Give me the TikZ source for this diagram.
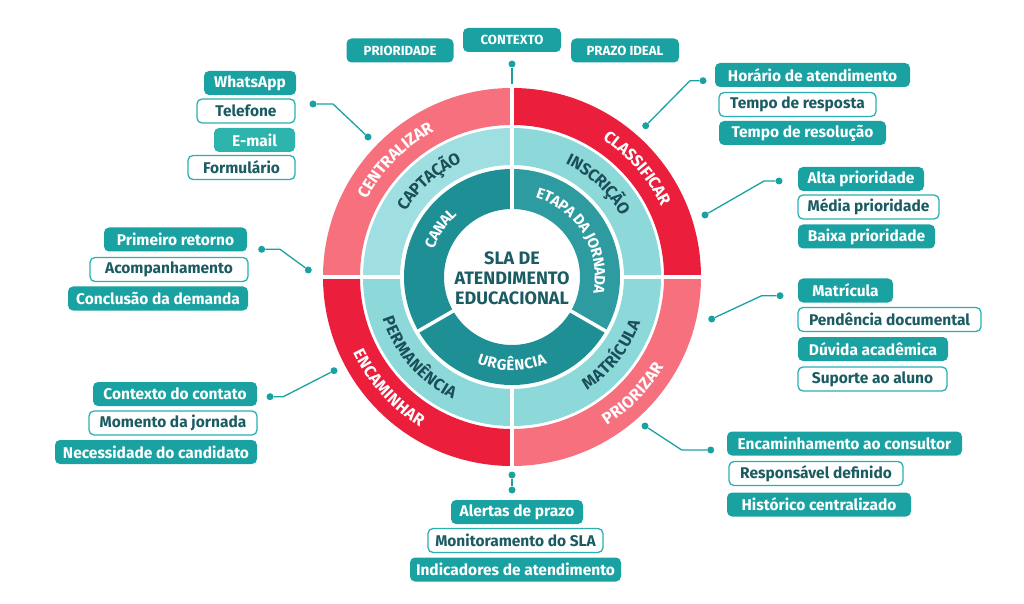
\documentclass[tikz,border=0pt]{standalone}
\usepackage{fontspec}
\setmainfont{Fira Sans}
\usetikzlibrary{decorations.text}
\definecolor{tealA}{HTML}{1AA2A3}
\definecolor{tealE}{HTML}{2DB4AC}
\definecolor{tealB}{HTML}{2BB0B2}
\definecolor{darktxt}{HTML}{1B5B62}
\definecolor{redL}{HTML}{F7707D}
\definecolor{redD}{HTML}{EB1E3C}
\definecolor{midL}{HTML}{A0DFE1}
\definecolor{midT}{HTML}{8DD9DA}
\definecolor{innA}{HTML}{1F8F96}
\definecolor{innB}{HTML}{2E9BA1}
\definecolor{ringtxt}{HTML}{1B4F57}
\newcommand\boxfnt{\bfseries\fontsize{15.5pt}{17pt}\selectfont}
\newcommand\capfnt{\bfseries\fontsize{13.2pt}{15pt}\selectfont}
\newcommand\ringfnt{\bfseries\fontsize{16.5pt}{16.5pt}\selectfont}
\newcommand\innfnt{\bfseries\fontsize{15pt}{15pt}\selectfont}
\newcommand\annsec[5]{\fill[#1,shift={(512,326)}] (#2:#5) arc[start angle=#2,end angle=#3,radius=#5] -- (#3:#4) arc[start angle=#3,end angle=#2,radius=#4] -- cycle;}
\tikzset{
  fbox/.style={rounded corners=5pt, fill=tealA, text=white, font=\boxfnt, minimum height=24pt, inner sep=0pt},
  obox/.style={rounded corners=5pt, draw=tealB, line width=1.3pt, fill=white, text=darktxt, font=\boxfnt, minimum height=24pt, inner sep=0pt},
  cbox/.style={fbox, font=\capfnt},
  cdot/.style={circle, fill=tealA, inner sep=0pt, minimum size=7pt},
  conn/.style={draw=tealA, line width=1.3pt},
  divline/.style={white, line width=3.5pt},
}
\begin{document}
\begin{tikzpicture}[x=1pt,y=1pt]
\useasboundingbox (0,0) rectangle (1024,603);
\coordinate (C) at (512,326);
% outer ring
\annsec{redL}{90}{180}{152}{189}
\annsec{redD}{0}{90}{152}{189}
\annsec{redL}{270}{360}{152}{189}
\annsec{redD}{180}{270}{152}{189}
% middle ring
\annsec{midL}{90}{180}{112}{149}
\annsec{midT}{0}{90}{112}{149}
\annsec{midT}{270}{360}{112}{149}
\annsec{midT}{180}{270}{112}{149}
% inner ring
\annsec{innA}{90}{210}{68}{108}
\annsec{innA}{210}{330}{68}{108}
\annsec{innB}{-30}{90}{68}{108}
% dividers
\foreach \a in {0,90,180,270} {\draw[divline] (C) ++(\a:109) -- ++(\a:82);}
\foreach \a in {90,210,330} {\draw[divline] (C) ++(\a:64) -- ++(\a:46);}
% ring texts outer
\path[decorate, decoration={text along path, text align=center, raise=-5.7pt, text color=white, text={|\ringfnt|CENTRALIZAR}}] (C) ++(185:170.5) arc[start angle=185, end angle=85, radius=170.5];
\path[decorate, decoration={text along path, text align=center, raise=-5.7pt, text color=white, text={|\ringfnt|CLASSIFICAR}}] (C) ++(91:170.5) arc[start angle=91, end angle=-9, radius=170.5];
\path[decorate, decoration={text along path, text align=center, raise=-5.7pt, text color=white, text={|\ringfnt|PRIORIZAR}}] (C) ++(-94:170.5) arc[start angle=-94, end angle=6, radius=170.5];
\path[decorate, decoration={text along path, text align=center, raise=-5.7pt, text color=white, text={|\ringfnt|ENCAMINHAR}}] (C) ++(172:170.5) arc[start angle=172, end angle=272, radius=170.5];
% middle texts
\path[decorate, decoration={text along path, text align=center, raise=-5.5pt, text color=ringtxt, text={|\ringfnt|CAPTAÇÃO}}] (C) ++(181:130.5) arc[start angle=181, end angle=81, radius=130.5];
\path[decorate, decoration={text along path, text align=center, raise=-5.5pt, text color=ringtxt, text={|\ringfnt|INSCRIÇÃO}}] (C) ++(97:130.5) arc[start angle=97, end angle=-3, radius=130.5];
\path[decorate, decoration={text along path, text align=center, raise=-5.5pt, text color=ringtxt, text={|\ringfnt|MATRÍCULA}}] (C) ++(-88:130.5) arc[start angle=-88, end angle=12, radius=130.5];
\path[decorate, decoration={text along path, text align=center, raise=-5.5pt, text color=ringtxt, text={|\ringfnt|PERMANÊNCIA}}] (C) ++(171:130.5) arc[start angle=171, end angle=271, radius=130.5];
% inner texts
\path[decorate, decoration={text along path, text align=center, raise=-5.2pt, text color=white, text={|\innfnt|CANAL}}] (C) ++(196:88) arc[start angle=196, end angle=96, radius=88];
\path[decorate, decoration={text along path, text align=center, raise=-5.2pt, text color=white, text={|\innfnt|ETAPA DA JORNADA}}] (C) ++(111:88) arc[start angle=111, end angle=-49, radius=88];
\path[decorate, decoration={text along path, text align=center, raise=-5.2pt, text color=white, text={|\innfnt|URGÊNCIA}}] (C) ++(200:88) arc[start angle=200, end angle=340, radius=88];
% title
\node[font=\bfseries\fontsize{18pt}{20pt}\selectfont, text=darktxt, align=center] (title) at (512,325) {SLA DE\\ATENDIMENTO\\EDUCACIONAL};
% top labels
\node[cbox, minimum width=107pt] (prio) at (400,552.5) {PRIORIDADE};
\node[cbox, minimum width=98pt] (ctx) at (512,563) {CONTEXTO};
\node[cbox, minimum width=108pt] (prazo) at (625,552.5) {PRAZO IDEAL};
\node[cdot] (dctx) at (512,539) {};
\coordinate (ectx) at (512,519);
\draw[conn] (dctx) -- (ectx);
% top-left group
\node[fbox, minimum width=92pt] (wa) at (250,520) {WhatsApp};
\node[obox, minimum width=98pt] (tel) at (246,492) {Telefone};
\node[fbox, fill=tealE, minimum width=81pt] (mail) at (254.5,463) {E-mail};
\node[obox, minimum width=107pt] (form) at (241.5,435.5) {Formulário};
\node[cdot] (d1a) at (313,499) {};
\node[cdot] (d1b) at (368,466) {};
\draw[conn] (d1a) -- (333,499) -- (d1b);
% top-right group
\node[fbox, minimum width=195pt] (hor) at (812.5,528) {Horário de atendimento};
\node[obox, minimum width=157pt] (tresp) at (797.5,498.5) {Tempo de resposta};
\node[fbox, minimum width=167pt] (tresol) at (802.5,470) {Tempo de resolução};
\node[cdot] (d2a) at (703,522.3) {};
\node[cdot] (d2b) at (645.7,477.3) {};
\draw[conn] (d2a) -- (690,522.3) -- (d2b);
% right-middle group
\node[fbox, minimum width=126pt] (alta) at (861,424) {Alta prioridade};
\node[obox, minimum width=141pt] (media) at (868.5,396) {Média prioridade};
\node[fbox, minimum width=137pt] (baixa) at (866.5,366.5) {Baixa prioridade};
\node[cdot] (d3a) at (779,422) {};
\node[cdot] (d3b) at (705,388) {};
\draw[conn] (d3a) -- (764,422) -- (d3b);
% right-lower group
\node[fbox, minimum width=95pt] (matr) at (845.5,312.5) {Matrícula};
\node[obox, minimum width=183pt] (pend) at (889.5,283.5) {Pendência documental};
\node[fbox, minimum width=150pt] (duv) at (873,254) {Dúvida acadêmica};
\node[obox, minimum width=149pt] (sup) at (872.5,224) {Suporte ao aluno};
\node[cdot] (d4a) at (780,307.3) {};
\node[cdot] (d4b) at (711.7,284) {};
\draw[conn] (d4a) -- (761.7,307.3) -- (d4b);
% right-bottom group
\node[fbox, minimum width=235pt] (enc) at (844.5,159.5) {Encaminhamento ao consultor};
\node[obox, minimum width=174pt] (resp) at (816,129.5) {Responsável definido};
\node[fbox, minimum width=184pt] (hist) at (819,98.5) {Histórico centralizado};
\node[cdot] (d5a) at (645,177) {};
\node[cdot] (d5b) at (710.7,153) {};
\draw[conn] (d5a) -- (681.7,153) -- (d5b);
% left-middle group
\node[fbox, minimum width=143pt] (prim) at (175.5,363.5) {Primeiro retorno};
\node[obox, minimum width=158pt] (acomp) at (169,333.5) {Acompanhamento};
\node[fbox, minimum width=180pt] (concl) at (158,304.5) {Conclusão da demanda};
\node[cdot] (d6a) at (261.7,353.7) {};
\node[cdot] (d6b) at (308.3,333) {};
\draw[conn] (d6a) -- (280,353.7) -- (d6b);
% left-lower group
\node[fbox, minimum width=164pt] (cont) at (175,209) {Contexto do contato};
\node[obox, minimum width=168pt] (mom) at (173,180) {Momento da jornada};
\node[fbox, minimum width=202pt] (nec) at (156,151) {Necessidade do candidato};
\node[cdot] (d7a) at (270,206.3) {};
\node[cdot] (d7b) at (334,232.3) {};
\draw[conn] (d7a) -- (283.3,206.3) -- (d7b);
% bottom group
\node[cdot] (d8a) at (512,128) {};
\node[cdot] (d8b) at (512,113) {};
\draw[conn] (d8a) -- (d8b);
\node[fbox, minimum width=132pt] (alert) at (517,91) {Alertas de prazo};
\node[obox, minimum width=175pt] (monit) at (515.5,62.5) {Monitoramento do SLA};
\node[fbox, minimum width=211pt] (indic) at (515.5,33.5) {Indicadores de atendimento};
\end{tikzpicture}
\end{document}
